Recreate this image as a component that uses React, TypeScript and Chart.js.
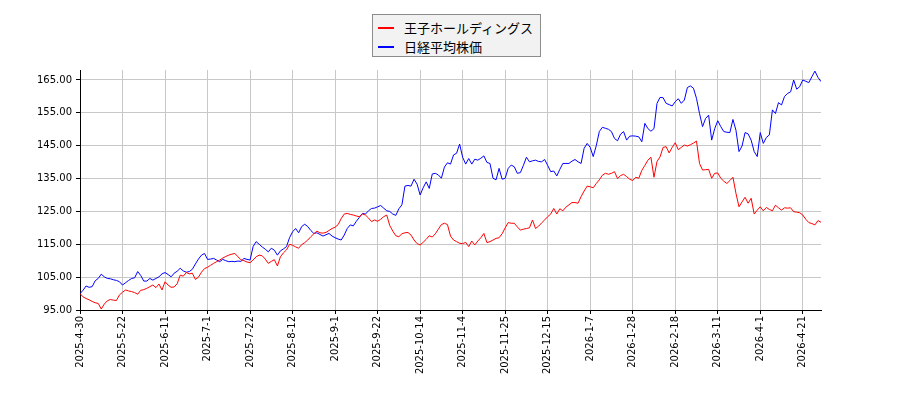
import React, { useEffect, useRef } from "react";
import { Chart, registerables } from "chart.js";

Chart.register(...registerables);

const tickLabels: string[] = [
  "2025-4-30", "2025-5-22", "2025-6-11", "2025-7-1", "2025-7-22", "2025-8-12",
  "2025-9-1", "2025-9-22", "2025-10-14", "2025-11-4", "2025-11-25", "2025-12-15",
  "2026-1-7", "2026-1-28", "2026-2-18", "2026-3-11", "2026-4-1", "2026-4-21",
];
const tickEvery = 14;

const yTicks: number[] = [95, 105, 115, 125, 135, 145, 155, 165];

const seriesNames: string[] = ["王子ホールディングス", "日経平均株価"];

const oji: number[] = [
  100.0, 99.0, 98.5, 98.1, 97.6, 97.2, 97.0, 95.3, 96.8, 97.8,
  98.2, 98.0, 97.9, 99.6, 100.4, 101.1, 100.8, 100.6, 100.3, 99.8,
  101.0, 101.2, 101.6, 102.1, 102.6, 101.8, 102.9, 101.1, 103.6, 102.6,
  101.9, 102.0, 103.0, 105.6, 105.3, 106.4, 106.0, 106.2, 104.3, 105.0,
  106.5, 107.6, 108.0, 108.6, 109.2, 109.7, 110.2, 110.8, 111.3, 111.7,
  112.0, 112.2, 111.2, 110.3, 110.0, 109.6, 109.4, 110.2, 111.2, 111.7,
  111.5, 110.5, 109.2, 109.8, 110.3, 108.4, 111.2, 112.4, 113.3, 115.0,
  114.7, 114.2, 113.8, 114.9, 115.5, 116.3, 117.3, 118.2, 119.0, 118.5,
  118.4, 118.6, 119.2, 119.8, 120.2, 121.0, 122.8, 124.2, 124.4, 124.1,
  123.9, 123.6, 123.4, 124.2, 123.9, 123.0, 121.9, 122.4, 122.0, 122.6,
  123.4, 123.9, 120.7, 119.0, 117.6, 117.3, 118.2, 118.5, 118.6, 117.8,
  116.3, 115.2, 114.8, 115.6, 116.5, 117.6, 117.2, 118.2, 119.6, 121.0,
  121.4, 121.0, 117.5, 116.3, 115.8, 115.3, 115.2, 115.6, 114.3, 116.0,
  114.8, 116.0, 117.0, 118.3, 115.5, 115.8, 116.3, 116.8, 117.0, 118.2,
  120.0, 121.6, 121.4, 121.4, 120.3, 119.3, 119.6, 119.8, 120.0, 122.4,
  119.8, 120.5, 121.5, 122.4, 123.4, 124.2, 125.9, 124.2, 125.8, 125.2,
  126.3, 127.0, 127.7, 127.7, 127.5, 129.5, 131.2, 132.7, 132.5, 132.2,
  133.5, 134.6, 136.0, 136.6, 136.3, 136.6, 137.1, 135.0, 135.9, 136.3,
  135.6, 134.8, 134.4, 135.4, 135.1, 137.5, 139.0, 140.6, 141.5, 135.4,
  140.2, 141.6, 144.5, 144.7, 142.8, 144.5, 145.9, 143.8, 144.5, 145.2,
  144.9, 145.3, 145.8, 146.4, 139.6, 137.6, 137.7, 137.8, 135.1, 136.6,
  136.7, 135.1, 134.2, 133.5, 134.4, 135.4, 130.5, 126.4, 127.9, 129.3,
  127.5, 129.0, 124.2, 125.4, 126.4, 125.2, 126.2, 125.6, 125.2, 126.9,
  126.1, 125.4, 126.1, 126.0, 126.1, 124.9, 124.8, 124.6, 123.9, 122.6,
  121.6, 121.3, 120.9, 122.2, 121.7,
];

const nikkei: number[] = [
  100.0, 101.0, 102.3, 101.9, 102.1, 103.9, 104.6, 105.9, 105.1, 104.6,
  104.5, 104.2, 104.0, 103.6, 102.6, 103.3, 104.0, 104.6, 104.8, 106.7,
  105.5, 103.8, 103.8, 104.6, 104.1, 104.6, 105.1, 106.0, 106.4, 105.8,
  105.1, 106.2, 106.8, 107.7, 106.9, 106.5, 106.7, 107.4, 109.0, 110.5,
  111.7, 112.2, 110.4, 110.5, 110.7, 110.2, 109.7, 110.4, 110.0, 109.7,
  109.8, 109.7, 109.9, 109.8, 110.7, 110.4, 110.2, 114.3, 115.8, 115.0,
  114.2, 113.5, 112.7, 113.8, 113.2, 111.7, 113.0, 113.6, 114.3, 117.0,
  118.8, 119.8, 118.5, 120.4, 121.1, 120.4, 119.2, 118.3, 118.5, 118.0,
  117.5, 117.9, 118.3, 117.5, 117.0, 116.6, 116.3, 117.8, 119.8, 120.9,
  120.6, 122.0, 123.2, 124.4, 124.2, 125.2, 125.9, 126.0, 126.4, 126.8,
  126.0, 125.2, 125.0, 124.2, 123.8, 125.8, 127.0, 132.7, 132.9, 132.7,
  134.8, 133.3, 130.0, 132.2, 134.0, 132.0, 136.4, 136.6, 136.1, 135.1,
  138.5, 139.8, 139.4, 142.2, 142.7, 145.5, 141.5, 139.4, 141.1, 139.4,
  140.9, 140.6, 141.2, 141.9, 139.9, 139.6, 135.1, 134.6, 138.1, 134.8,
  135.1, 138.1, 139.1, 138.6, 136.6, 136.8, 139.0, 141.5, 140.1, 140.4,
  140.6, 140.2, 140.1, 140.8, 139.0, 137.1, 137.3, 135.8, 137.8, 139.6,
  139.6, 139.6, 140.3, 140.8, 140.1, 139.6, 144.2, 145.7, 144.5, 141.7,
  145.0, 149.3, 150.6, 150.3, 150.0, 149.3, 147.2, 146.5, 148.5, 149.3,
  146.7, 147.9, 148.0, 147.9, 147.7, 146.2, 151.8, 150.2, 149.4, 150.2,
  157.9, 159.7, 159.6, 157.9, 157.5, 157.1, 158.4, 159.3, 157.9, 158.9,
  162.7, 163.2, 162.5, 159.4, 154.8, 150.8, 153.3, 154.3, 146.7, 150.2,
  152.6, 150.8, 149.3, 149.1, 149.0, 153.0, 149.7, 143.2, 144.9, 149.0,
  148.6, 146.7, 143.2, 141.7, 149.0, 145.7, 147.5, 148.3, 155.9, 154.8,
  158.1, 157.4, 160.0, 160.9, 161.4, 165.0, 162.2, 163.0, 165.0, 164.6,
  164.2, 166.0, 167.7, 165.8, 164.5,
];

const seriesColors: string[] = ["#ff0000", "#0000ff"];

export default function App() {
  const canvasRef = useRef<HTMLCanvasElement | null>(null);

  useEffect(() => {
    document.body.style.margin = "0";
    const canvas = canvasRef.current;
    if (!canvas) return;
    const tickFont = { family: "'DejaVu Sans', sans-serif", size: 10 };
    const chart = new Chart(canvas, {
      type: "line",
      data: {
        datasets: [oji, nikkei].map((vals, k) => ({
          label: seriesNames[k],
          data: vals.map((v, i) => ({ x: i, y: v })),
          borderColor: seriesColors[k],
          backgroundColor: seriesColors[k],
          borderWidth: 1,
          pointRadius: 0,
          tension: 0,
          fill: false,
        })),
      },
      options: {
        animation: false,
        responsive: false,
        devicePixelRatio: 1,
        layout: { padding: { top: 70, right: 79, bottom: 0, left: 0 } },
        plugins: { legend: { display: false }, tooltip: { enabled: false } },
        scales: {
          x: {
            type: "linear",
            min: 0,
            max: oji.length - 1,
            afterBuildTicks: (scale: any) => {
              scale.ticks = tickLabels.map((_, i) => ({ value: i * tickEvery }));
            },
            afterFit: (scale: any) => {
              scale.height = 90;
            },
            ticks: {
              autoSkip: false,
              minRotation: 90,
              maxRotation: 90,
              padding: 2,
              color: "#000",
              font: tickFont,
              callback: (v: any) => tickLabels[Math.round(Number(v) / tickEvery)] ?? "",
            },
            grid: { color: "#c8c8c8", lineWidth: 1, tickLength: 4, tickColor: "#000" },
            border: { color: "#000", width: 1 },
          },
          y: {
            type: "linear",
            min: 95,
            max: 168.04,
            afterBuildTicks: (scale: any) => {
              scale.ticks = yTicks.map((v) => ({ value: v }));
            },
            afterFit: (scale: any) => {
              scale.width = 80;
            },
            ticks: {
              padding: 4,
              color: "#000",
              font: tickFont,
              callback: (v: any) => Number(v).toFixed(2),
            },
            grid: { color: "#c8c8c8", lineWidth: 1, tickLength: 4, tickColor: "#000" },
            border: { color: "#000", width: 1 },
          },
        },
      },
    });
    return () => chart.destroy();
  }, []);

  const legendFont = "'Noto Sans CJK JP', 'Noto Sans', sans-serif";

  return (
    <div style={{ position: "absolute", left: 0, top: 0, width: 900, height: 400, background: "#fff" }}>
      <canvas ref={canvasRef} width={900} height={400} style={{ display: "block" }} />
      <div
        style={{
          position: "absolute",
          left: 372,
          top: 14,
          width: 167,
          height: 41,
          background: "#f2f2f2",
          border: "1px solid #8c8c8c",
          fontFamily: legendFont,
          fontSize: 13,
          color: "#000",
        }}
      >
        {seriesNames.map((name, k) => (
          <div key={name} style={{ position: "absolute", left: 5, top: 4 + k * 19, height: 18, display: "flex", alignItems: "center" }}>
            <span style={{ display: "inline-block", width: 16, height: 2, background: seriesColors[k], marginRight: 10 }} />
            <span style={{ lineHeight: "18px", whiteSpace: "nowrap" }}>{name}</span>
          </div>
        ))}
      </div>
    </div>
  );
}
